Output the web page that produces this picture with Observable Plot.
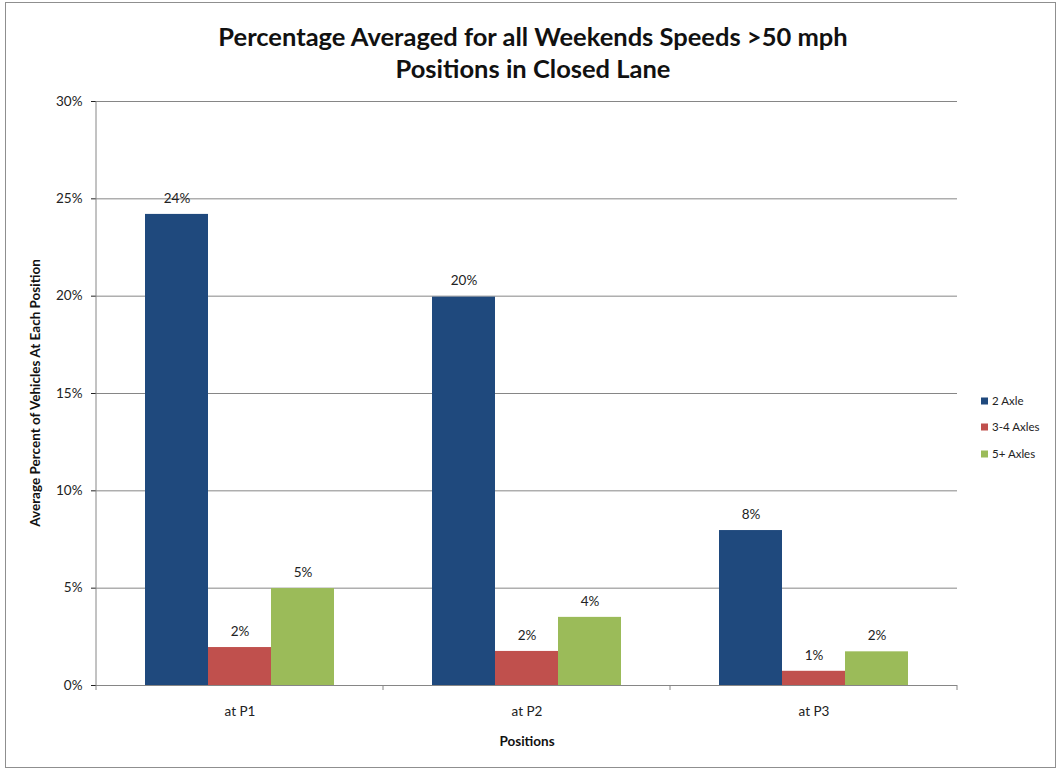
<!DOCTYPE html>
<html>
<head>
<meta charset="utf-8">
<script src="https://cdn.jsdelivr.net/npm/d3@7"></script>
<script src="https://cdn.jsdelivr.net/npm/@observablehq/plot@0.6"></script>
<style>
  body { margin: 0; background: #fff; font-family: Lato, "Open Sans", sans-serif; }
  #chart { position: relative; width: 1061px; height: 771px; overflow: hidden; background: #fff; }
  #border { position: absolute; left: 5px; top: 2px; width: 1051px; height: 766px; border: 1px solid #8f8f8f; box-sizing: border-box; pointer-events: none; }
  #plotwrap { position: absolute; left: 0; top: 0; }
  .title { position: absolute; left: 0; width: 1066px; text-align: center; font-weight: bold; font-size: 25.5px; color: #111; line-height: 32px; }
  #ytitle { position: absolute; left: 35px; top: 393px; transform: translate(-50%, -50%) rotate(-90deg); white-space: nowrap; font-weight: bold; font-size: 13.5px; color: #111; }
  #xtitle { position: absolute; left: 527px; top: 741px; transform: translate(-50%, -50%); white-space: nowrap; font-weight: bold; font-size: 13.5px; color: #111; }
  .leg { position: absolute; left: 981px; font-size: 11.5px; color: #222; white-space: nowrap; transform: translateY(-50%); }
  .leg span.sw { display: inline-block; width: 7px; height: 7px; margin-right: 4px; vertical-align: 0px; }
  svg [aria-label="y-axis tick"] { stroke: #868686; }
</style>
</head>
<body>
<div id="chart">
  <div id="plotwrap"></div>
  <div class="title" style="top:20px">Percentage Averaged for all Weekends Speeds &gt;50 mph</div>
  <div class="title" style="top:52px">Positions in Closed Lane</div>
  <div id="ytitle">Average Percent of Vehicles At Each Position</div>
  <div id="xtitle">Positions</div>
  <div id="legend"></div>
  <div id="border"></div>
</div>
<script>
// ---- data ----
const positions = ["at P1", "at P2", "at P3"];
const series = ["2 Axle", "3-4 Axles", "5+ Axles"];
const axle2 = [24.2, 19.95, 7.96];
const axle34 = [1.95, 1.75, 0.73];
const axle5 = [4.98, 3.5, 1.73];
const yTicks = [0, 5, 10, 15, 20, 25, 30];
const colors = ["#1F497D", "#C0504D", "#9BBB59"];

const seriesValues = [axle2, axle34, axle5];
const rows = positions.flatMap((p, i) =>
  series.map((s, j) => ({pos: p, series: s, value: seriesValues[j][i]}))
);

const plot = Plot.plot({
  width: 1061,
  height: 771,
  marginLeft: 95,
  marginRight: 103,
  marginTop: 101,
  marginBottom: 86,
  style: {fontFamily: "Lato, 'Open Sans', sans-serif", fontSize: "13.5px", color: "#222", background: "transparent", overflow: "visible"},
  facet: {data: rows, x: "pos"},
  fx: {domain: positions, padding: 0, axis: "bottom", label: null, tickSize: 0, tickPadding: 21},
  x: {domain: series, paddingInner: 0, paddingOuter: 0.75, axis: null},
  y: {domain: [0, 30], ticks: yTicks, tickFormat: d => d + "%", tickSize: 5, tickPadding: 9, label: null},
  color: {domain: series, range: colors},
  marks: [
    Plot.ruleY(yTicks, {stroke: "#868686", strokeOpacity: 1}),
    Plot.barY(rows, {x: "series", y: "value", fill: "series"}),
    Plot.text(rows, {x: "series", y: "value", text: d => Math.round(d.value) + "%", dy: -16, fontSize: 13.5, fill: "#222"})
  ]
});
document.getElementById("plotwrap").appendChild(plot);

// axis line and category boundary ticks, positioned through Plot's scales
const svgEl = plot.tagName.toLowerCase() === "svg" ? plot : plot.querySelector("svg");
const svg = d3.select(svgEl);
const fxS = plot.scale("fx"), yS = plot.scale("y");
const fxApply = fxS.apply ? fxS.apply : d3.scaleBand(fxS.domain, fxS.range).paddingInner(0).paddingOuter(0);
const bw = fxS.bandwidth != null ? fxS.bandwidth : d3.scaleBand(fxS.domain, fxS.range).bandwidth();
const yApply = yS.apply ? yS.apply : d3.scaleLinear(yS.domain, yS.range);
const y0 = yApply(0), yTop = yApply(30);
const xStart = fxApply(positions[0]);
const g = svg.append("g").attr("stroke", "#868686");
g.append("line").attr("x1", xStart).attr("x2", xStart).attr("y1", yTop).attr("y2", y0 + 5);
positions.forEach(p => {
  const xe = fxApply(p) + bw;
  g.append("line").attr("x1", xe).attr("x2", xe).attr("y1", y0).attr("y2", y0 + 5);
});

// legend
const legend = document.getElementById("legend");
const legTops = [400, 426, 453];
series.forEach((s, i) => {
  const d = document.createElement("div");
  d.className = "leg";
  d.style.top = legTops[i] + "px";
  d.innerHTML = `<span class="sw" style="background:${colors[i]}"></span>${s}`;
  legend.appendChild(d);
});
</script>
</body>
</html>
